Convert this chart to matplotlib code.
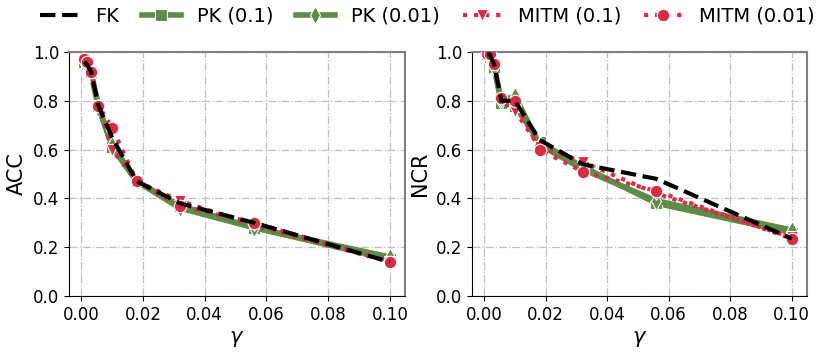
import matplotlib.pyplot as plt

gamma = [0.001, 0.0018, 0.0032, 0.0056, 0.01, 0.018, 0.032, 0.056, 0.1]

acc_fk = [0.96, 0.95, 0.92, 0.78, 0.65, 0.47, 0.38, 0.30, 0.14]
acc_pk1 = [0.96, 0.95, 0.92, 0.78, 0.61, 0.47, 0.37, 0.28, 0.15]
acc_pk01 = [0.96, 0.95, 0.91, 0.77, 0.62, 0.47, 0.36, 0.28, 0.16]
acc_mitm1 = [0.96, 0.95, 0.92, 0.78, 0.60, 0.47, 0.39, 0.29, 0.14]
acc_mitm01 = [0.97, 0.96, 0.92, 0.78, 0.69, 0.47, 0.37, 0.30, 0.14]

ncr_fk = [0.99, 0.99, 0.95, 0.80, 0.80, 0.64, 0.54, 0.48, 0.235]
ncr_pk1 = [0.99, 0.98, 0.94, 0.79, 0.78, 0.63, 0.53, 0.38, 0.26]
ncr_pk01 = [0.99, 0.98, 0.94, 0.80, 0.82, 0.62, 0.52, 0.39, 0.27]
ncr_mitm1 = [0.99, 0.99, 0.95, 0.80, 0.76, 0.61, 0.55, 0.42, 0.24]
ncr_mitm01 = [0.99, 0.99, 0.95, 0.81, 0.80, 0.60, 0.51, 0.43, 0.235]

green = '#5d8c48'
red = '#d62d47'

fig = plt.figure(figsize=(8.3, 3.55), dpi=100)
ax1 = fig.add_axes([0.0831, 0.1662, 0.405, 0.6873])
ax2 = fig.add_axes([0.5687, 0.1662, 0.4036, 0.6873])


def draw(ax, fk, pk1, pk01, m1, m01, ylabel):
    ax.plot(gamma, pk1, color=green, lw=4, marker='s', ms=8, mec='white', mew=0.8, label='PK (0.1)', zorder=2)
    ax.plot(gamma, pk01, color=green, lw=4, marker='d', ms=9, mec='white', mew=0.8, label='PK (0.01)', zorder=2)
    ax.plot(gamma, m1, color=red, lw=3, ls=':', marker='v', ms=9, mec='white', mew=0.8, label='MITM (0.1)', zorder=3)
    ax.plot(gamma, m01, color=red, lw=3, ls=':', marker='o', ms=9, mec='white', mew=0.8, label='MITM (0.01)', zorder=3)
    ax.plot(gamma, fk, color='black', lw=3, ls='--', label='FK', zorder=4)
    ax.set_ylim(0, 1.0)
    ax.set_yticks([0.0, 0.2, 0.4, 0.6, 0.8, 1.0])
    ax.set_xticks([0.0, 0.02, 0.04, 0.06, 0.08, 0.10])
    ax.grid(True, ls='-.', color='#c0c0c0', lw=0.9)
    ax.set_axisbelow(True)
    ax.tick_params(labelsize=12)
    ax.set_xlabel(r'$\gamma$', fontsize=15)
    ax.set_ylabel(ylabel, fontsize=15)
    for s in ['top', 'right']:
        ax.spines[s].set_color('#808080')
        ax.spines[s].set_linewidth(1.5)


draw(ax1, acc_fk, acc_pk1, acc_pk01, acc_mitm1, acc_mitm01, 'ACC')
draw(ax2, ncr_fk, ncr_pk1, ncr_pk01, ncr_mitm1, ncr_mitm01, 'NCR')

handles, labels = ax1.get_legend_handles_labels()
order = [4, 0, 1, 2, 3]
fig.legend([handles[i] for i in order], [labels[i] for i in order],
           loc='upper center', bbox_to_anchor=(0.515, 1.03), ncol=5, frameon=False,
           fontsize=14, columnspacing=1.15, handletextpad=0.85)

fig.savefig('out.png', dpi=100)
